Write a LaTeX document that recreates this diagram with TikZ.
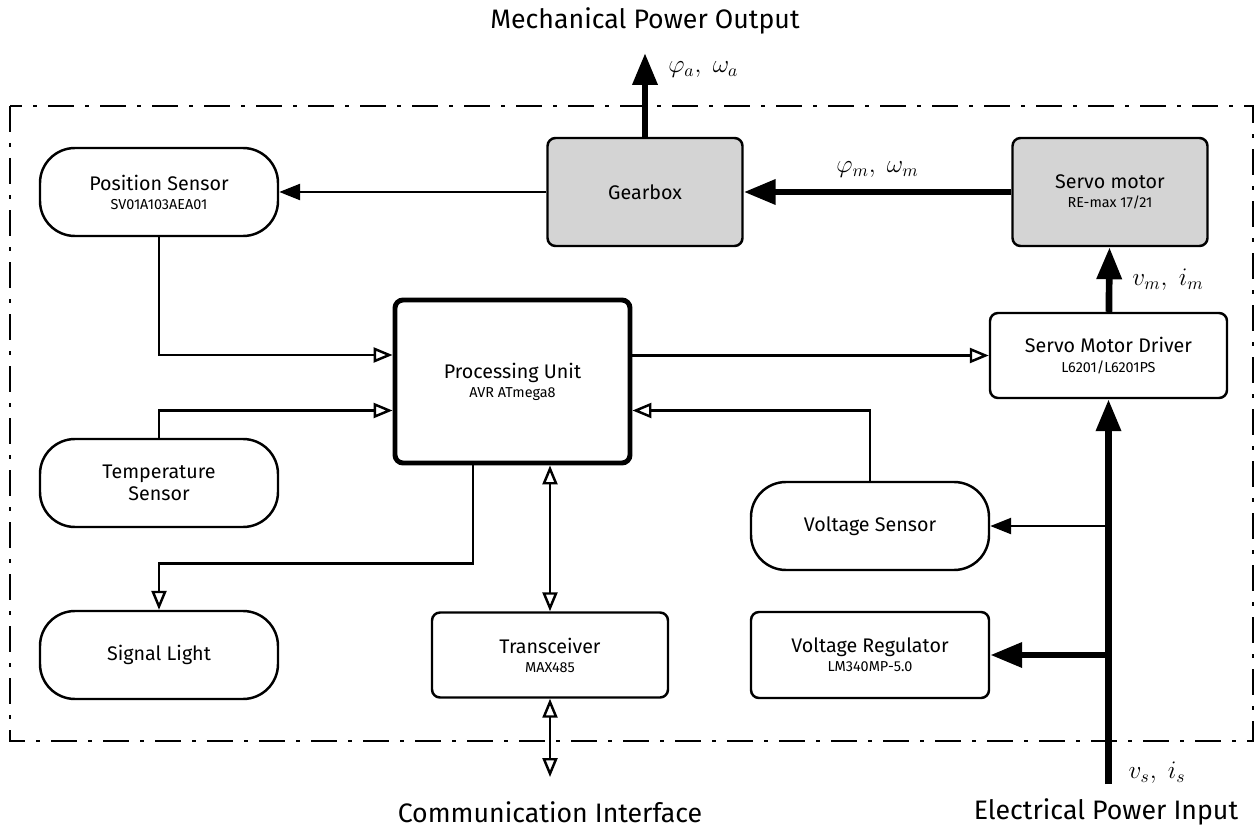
\documentclass[tikz,border=0pt]{standalone}
\usepackage{fontspec}
\setmainfont{Fira Sans}
\usepackage{tikz}
\usetikzlibrary{arrows.meta, positioning, calc}
\definecolor{inkblack}{HTML}{000000}
\definecolor{mechgray}{HTML}{D4D4D4}
\newcommand\partno[1]{{\fontsize{8.2}{9.5}\selectfont #1}}
\tikzset{
  lbl/.style={font=\fontsize{11.2}{12.8}\selectfont, text=inkblack},
  heading/.style={font=\fontsize{15.2}{17}\selectfont, text=inkblack},
  qty/.style={font=\fontsize{14.5}{16}\selectfont, text=inkblack},
  blk/.style={lbl, draw=inkblack, line width=1.4pt, rounded corners=0.16cm,
              align=center, minimum width=4.76cm, minimum height=1.72cm, inner sep=2pt},
  sensor/.style={blk, rounded corners=0.7cm, minimum height=1.76cm},
  mech/.style={blk, fill=mechgray, minimum width=3.9cm, minimum height=2.16cm},
  flow/.style={-{Triangle[open, length=0.38cm, width=0.3cm]}, line width=1.4pt},
  dflow/.style={{Triangle[open, length=0.38cm, width=0.3cm]}-{Triangle[open, length=0.38cm, width=0.3cm]}, line width=1.4pt},
  feed/.style={-{Triangle[length=0.42cm, width=0.32cm]}, line width=1.4pt},
  power/.style={-{Triangle[length=0.64cm, width=0.48cm]}, line width=3.8pt},
  border/.style={line width=1.4pt, dash pattern=on 0.52cm off 0.22cm on 0.08cm off 0.22cm},
}
\begin{document}
\begin{tikzpicture}[x=1cm, y=1cm]
  \useasboundingbox (0,0) rectangle (25.16,-16.6);
  % system boundary
  \draw[border] (0.2,-2.12) rectangle (25.06,-14.82);
  % blocks
  \node[sensor] (ps) at (3.18,-3.84)  {Position Sensor\\[-1.9pt]\partno{SV01A103AEA01}};
  \node[sensor] (ts) at (3.18,-9.66)  {Temperature\\Sensor};
  \node[sensor] (sl) at (3.18,-13.1)  {Signal Light};
  \node[mech]   (gb) at (12.9,-3.84)  {Gearbox};
  \node[mech]   (sm) at (22.2,-3.84)  {Servo motor\\[-1.9pt]\partno{RE-max 17/21}};
  \node[blk, line width=2.8pt, minimum width=4.7cm, minimum height=3.26cm] (pu) at (10.25,-7.63)
        {Processing Unit\\[-1.9pt]\partno{AVR ATmega8}};
  \node[blk, minimum width=4.74cm, minimum height=1.7cm] (smd) at (22.17,-7.11)
        {Servo Motor Driver\\[-1.9pt]\partno{L6201/L6201PS}};
  \node[sensor] (vs) at (17.4,-10.52) {Voltage Sensor};
  \node[blk]    (vr) at (17.4,-13.1)  {Voltage Regulator\\[-1.9pt]\partno{LM340MP-5.0}};
  \node[blk, minimum width=4.72cm, minimum height=1.7cm] (tr) at (11.0,-13.1)
        {Transceiver\\[-1.9pt]\partno{MAX485}};
  % outside the boundary
  \node[heading] (mpo) at (12.9,-0.42)  {Mechanical Power Output};
  \node[heading] (ci)  at (11.0,-16.24) {Communication Interface};
  \node[heading] (epi) at (22.12,-16.24){Electrical Power Input};
  \coordinate (aout) at (12.9,-1.06);
  \coordinate (comm) at (11.0,-15.54);
  \coordinate (supply) at (smd.south |- 0,-15.68);
  % mechanical path
  \draw[power] (sm) -- (gb) node[qty, midway, above=3pt] {$\varphi_m,\;\omega_m$};
  \draw[power] (gb) -- (aout) node[qty, pos=0.8, right=8pt] {$\varphi_a,\;\omega_a$};
  \draw[feed] (gb) -- (ps);
  % signals
  \draw[flow] (ps.south) |- ([yshift=0.53cm]pu.west);
  \draw[flow] (ts.north) |- ([yshift=-0.58cm]pu.west);
  \draw[flow] (pu.east |- smd.west) -- (smd.west);
  \draw[flow] (vs.north) |- ([yshift=-0.58cm]pu.east);
  \draw[flow] ([xshift=-0.79cm]pu.south) -- ++(0,-1.96) -| (sl.north);
  \draw[dflow] (tr.north |- pu.south) -- (tr.north);
  \draw[dflow] (tr.south) -- (comm);
  % electrical supply
  \draw[power] (supply) -- (smd.south);
  \draw[power] (smd) -- (sm) node[qty, midway, right=8pt] {$v_m,\;i_m$};
  \draw[feed] (supply |- vs.east) -- (vs.east);
  \draw[power] (supply |- vr.east) -- (vr.east);
  \node[qty, anchor=west] (vsis) at (22.45,-15.46) {$v_s,\;i_s$};
\end{tikzpicture}
\end{document}
